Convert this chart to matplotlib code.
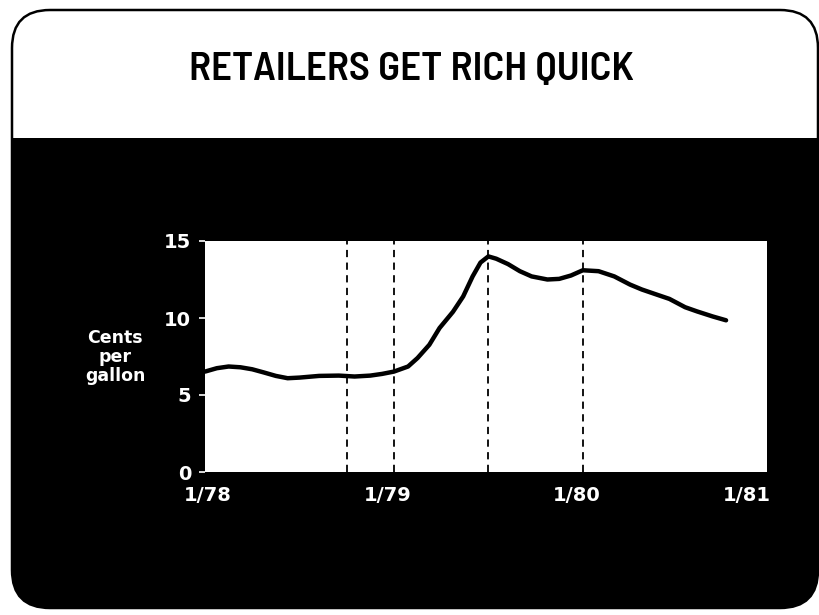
import matplotlib.pyplot as plt
from matplotlib.patches import FancyBboxPatch, Rectangle

# Retail gasoline margin, cents per gallon (months after 1/78)
months = [0, 0.75, 1.5, 2.25, 3, 3.75, 4.5, 5.25, 6, 7.25, 8.5, 9.5, 10.5,
          11.25, 12, 12.9, 13.5, 14.25, 14.9, 15.75, 16.4, 17, 17.5, 18,
          18.5, 19.25, 20, 20.75, 21.75, 22.5, 23.25, 24, 25, 26, 27, 27.75,
          28.75, 29.5, 30.5, 31.25, 32.25, 33.1]
margin = [6.52, 6.74, 6.85, 6.8, 6.67, 6.46, 6.24, 6.09, 6.13, 6.24, 6.26,
          6.2, 6.26, 6.37, 6.52, 6.85, 7.4, 8.26, 9.35, 10.4, 11.4, 12.7,
          13.6, 14.0, 13.85, 13.5, 13.04, 12.7, 12.5, 12.54, 12.76, 13.1,
          13.04, 12.7, 12.17, 11.85, 11.5, 11.24, 10.7, 10.43, 10.1, 9.85]

event_months = [9, 12, 18, 24]
yticks = [0, 5, 10, 15]
xtick_pos = [0.15, 11.6, 23.6, 34.4]
xtick_labels = ['1/78', '1/79', '1/80', '1/81']
title = 'RETAILERS GET RICH QUICK'

fig = plt.figure(figsize=(8.2, 6.15), dpi=100)

# background card drawn in pixel-like coordinates
bg = fig.add_axes([0, 0, 1, 1])
bg.set_xlim(0, 820)
bg.set_ylim(615, 0)
bg.axis('off')

card = FancyBboxPatch((12, 10), 806, 598, boxstyle='round,pad=0,rounding_size=38',
                      facecolor='white', edgecolor='none')
bg.add_patch(card)
dark = Rectangle((0, 138), 820, 480, facecolor='black', edgecolor='none')
bg.add_patch(dark)
dark.set_clip_path(card)
border = FancyBboxPatch((12, 10), 806, 598, boxstyle='round,pad=0,rounding_size=38',
                        facecolor='none', edgecolor='black', linewidth=1.8)
bg.add_patch(border)

bg.text(411, 70, title, ha='center', va='center', fontsize=29.5,
        family=['Barlow Semi Condensed', 'DejaVu Sans'], fontweight='semibold', color='black')

bg.text(115, 357, 'Cents\nper\ngallon', ha='center', va='center', color='white',
        fontsize=12.5, fontweight='bold', linespacing=1.05)

# main chart
ax = fig.add_axes([205 / 820, 1 - 472 / 615, (767 - 205) / 820, (472 - 241) / 615])
ax.set_facecolor('white')
for s in ax.spines.values():
    s.set_visible(False)

for m in event_months:
    ax.axvline(m, color='black', linestyle=(0, (4, 3)), linewidth=1.3, zorder=1)

ax.plot(months, margin, color='black', linewidth=3.2, solid_capstyle='round', zorder=2)

ax.set_xlim(0, 35.7)
ax.set_ylim(0, 15)
ax.set_yticks(yticks)
ax.set_yticklabels([str(v) for v in yticks])
ax.set_xticks(xtick_pos)
ax.set_xticklabels(xtick_labels)
ax.tick_params(axis='y', colors='white', length=4, width=1.2, pad=6, labelsize=14)
ax.tick_params(axis='x', length=0, pad=10, labelsize=14, colors='white')
for lab in ax.get_xticklabels() + ax.get_yticklabels():
    lab.set_fontweight('bold')

fig.savefig('out.png', dpi=100, facecolor='white')
